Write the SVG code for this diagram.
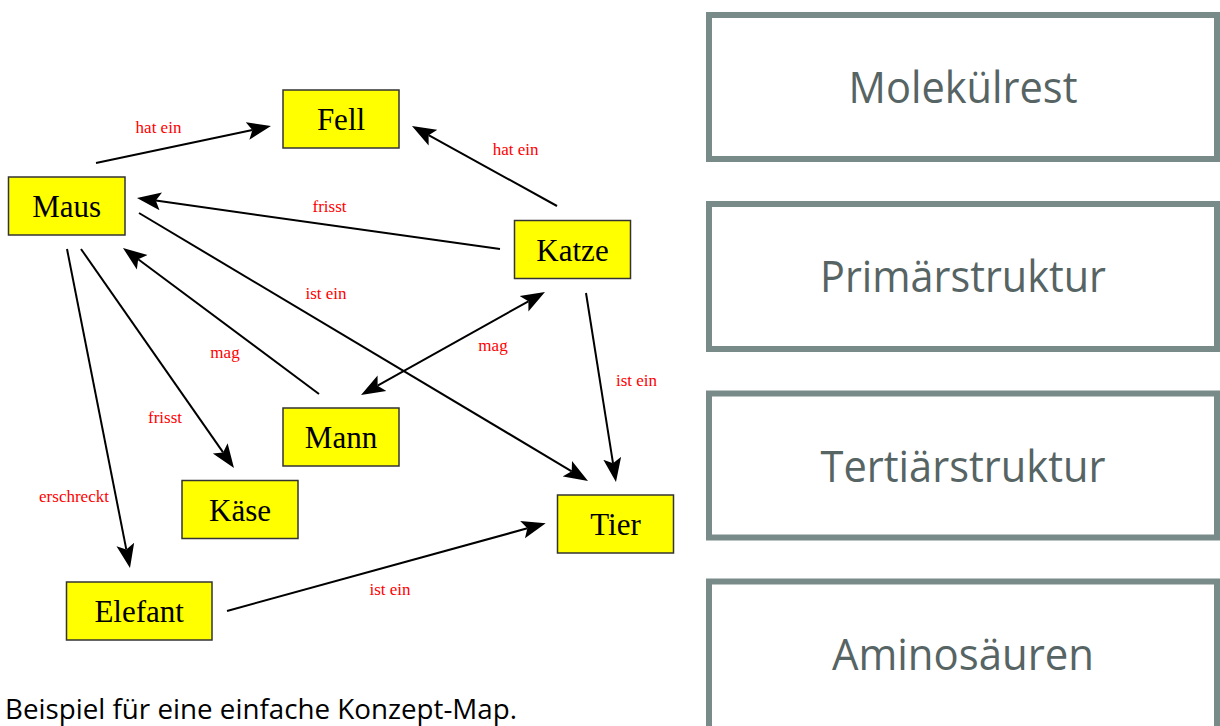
<svg xmlns="http://www.w3.org/2000/svg" width="1220" height="726" viewBox="0 0 1220 726">
<style>
.node rect{fill:#ffff00;stroke:#333333;stroke-width:1.5}
.node text{font-family:"Liberation Serif","Times New Roman",serif;font-size:31px;fill:#000;text-anchor:middle}
.lbl{font-family:"Liberation Serif","Times New Roman",serif;font-size:17px;fill:#ff0000;text-anchor:middle}
.edge{stroke:#000;stroke-width:2;fill:none}
.box rect{fill:#fff;stroke:#788b89;stroke-width:6}
.box text{font-family:"Open Sans","Noto Sans",sans-serif;font-size:43px;fill:#566464;text-anchor:middle}
.cap{font-family:"Open Sans","Noto Sans",sans-serif;font-size:27.5px;fill:#000}
</style>
<defs>
<marker id="ah" markerUnits="userSpaceOnUse" markerWidth="26" markerHeight="20" viewBox="0 -10 26 20" refX="5" refY="0" orient="auto-start-reverse">
<path d="M0,-9 L24,0 L0,9 L5,0 Z" fill="#000"/>
</marker>
</defs>
<rect width="1220" height="726" fill="#fff"/>
<g id="connectors">
<line class="edge" x1="96" y1="163" x2="252.4" y2="129.9" marker-end="url(#ah)"/>
<line class="edge" x1="557" y1="206" x2="428.6" y2="135.2" marker-end="url(#ah)"/>
<line class="edge" x1="500" y1="249" x2="155.8" y2="200.6" marker-end="url(#ah)"/>
<line class="edge" x1="139" y1="213" x2="571.7" y2="471.3" marker-end="url(#ah)"/>
<line class="edge" x1="319" y1="394" x2="138.2" y2="259.3" marker-end="url(#ah)"/>
<line class="edge" x1="81" y1="249" x2="223.1" y2="452.4" marker-end="url(#ah)"/>
<line class="edge" x1="67" y1="249" x2="126.3" y2="549.4" marker-end="url(#ah)"/>
<line class="edge" x1="377.6" y1="385.7" x2="528.4" y2="301.3" marker-start="url(#ah)" marker-end="url(#ah)"/>
<line class="edge" x1="586" y1="293" x2="613" y2="463.2" marker-end="url(#ah)"/>
<line class="edge" x1="227" y1="611" x2="527.4" y2="528.3" marker-end="url(#ah)"/>
<text class="lbl" x="158.5" y="133">hat ein</text>
<text class="lbl" x="515.7" y="155">hat ein</text>
<text class="lbl" x="329.5" y="212">frisst</text>
<text class="lbl" x="326" y="299">ist ein</text>
<text class="lbl" x="225" y="358">mag</text>
<text class="lbl" x="493" y="351">mag</text>
<text class="lbl" x="165" y="423">frisst</text>
<text class="lbl" x="74" y="502">erschreckt</text>
<text class="lbl" x="636.5" y="386">ist ein</text>
<text class="lbl" x="390" y="595">ist ein</text>
</g>
<g id="fell" class="node"><rect x="283" y="90" width="116" height="58"/><text x="341" y="130">Fell</text></g>
<g id="maus" class="node"><rect x="8.5" y="177" width="116.5" height="58"/><text x="66.7" y="217">Maus</text></g>
<g id="katze" class="node"><rect x="514.5" y="220.5" width="116" height="58"/><text x="572.5" y="261">Katze</text></g>
<g id="mann" class="node"><rect x="283" y="408" width="116" height="58"/><text x="341" y="448">Mann</text></g>
<g id="kaese" class="node"><rect x="182" y="480.5" width="116" height="58"/><text x="240" y="521">Käse</text></g>
<g id="tier" class="node"><rect x="557.5" y="495" width="116" height="58"/><text x="615.5" y="535">Tier</text></g>
<g id="elefant" class="node"><rect x="66.5" y="582" width="145.5" height="58"/><text x="139.2" y="622">Elefant</text></g>
<g id="molekuelrest" class="box"><rect x="709" y="15" width="508" height="144"/><text x="963" y="103" textLength="229" lengthAdjust="spacingAndGlyphs">Molekülrest</text></g>
<g id="primaerstruktur" class="box"><rect x="709" y="204" width="508" height="145"/><text x="963" y="292" textLength="286" lengthAdjust="spacingAndGlyphs">Primärstruktur</text></g>
<g id="tertiaerstruktur" class="box"><rect x="709" y="393.5" width="508" height="144"/><text x="963" y="482" textLength="285" lengthAdjust="spacingAndGlyphs">Tertiärstruktur</text></g>
<g id="aminosaeuren" class="box"><rect x="709" y="581.5" width="508" height="160"/><text x="963" y="670" textLength="262" lengthAdjust="spacingAndGlyphs">Aminosäuren</text></g>
<text class="cap" x="5" y="719" textLength="512" lengthAdjust="spacingAndGlyphs">Beispiel für eine einfache Konzept-Map.</text>
</svg>
